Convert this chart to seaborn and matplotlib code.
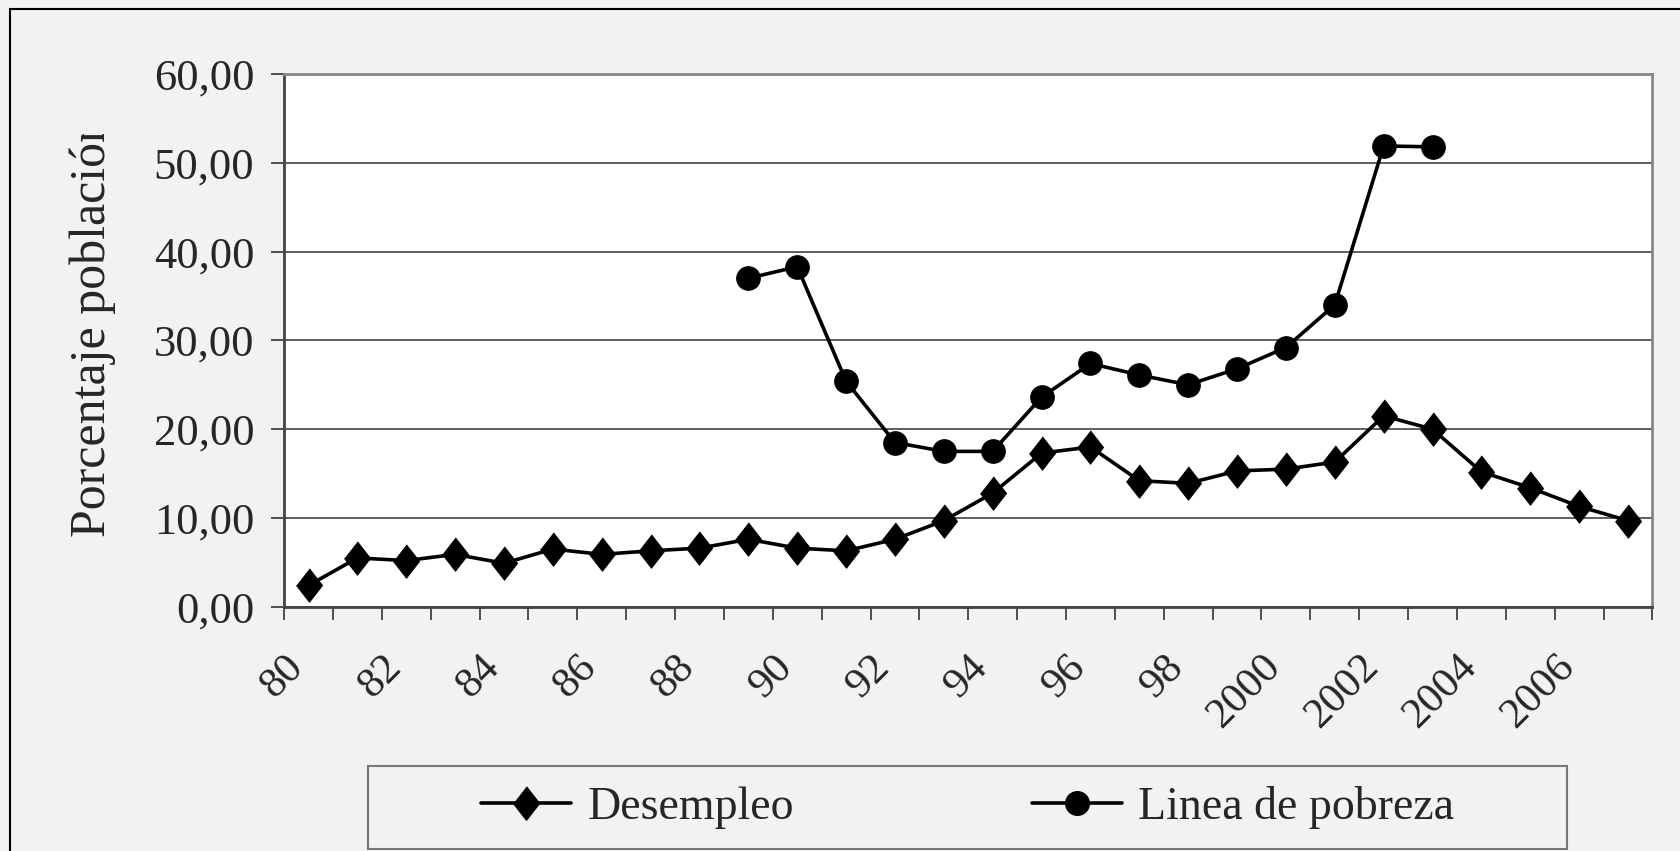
import numpy as np
import pandas as pd
import matplotlib
matplotlib.use("Agg")
import matplotlib.pyplot as plt
import seaborn as sns
from matplotlib.lines import Line2D
from matplotlib.patches import Rectangle
from matplotlib.transforms import Bbox, TransformedBbox


# ==================================
# DATA
# ==================================

years = ["80", "81", "82", "83", "84", "85", "86", "87", "88", "89",
         "90", "91", "92", "93", "94", "95", "96", "97", "98", "99",
         "2000", "2001", "2002", "2003", "2004", "2005", "2006", "2007"]

desempleo = [2.4, 5.5, 5.2, 5.9, 4.9, 6.5, 5.9, 6.3, 6.6, 7.6,
             6.6, 6.3, 7.6, 9.7, 12.8, 17.3, 18.0, 14.2, 13.9, 15.3,
             15.5, 16.3, 21.5, 20.0, 15.2, 13.4, 11.3, 9.7]

pobreza = [np.nan, np.nan, np.nan, np.nan, np.nan, np.nan, np.nan, np.nan, np.nan, 37.0,
           38.3, 25.4, 18.5, 17.5, 17.5, 23.6, 27.4, 26.1, 25.0, 26.8,
           29.2, 34.0, 51.9, 51.8, np.nan, np.nan, np.nan, np.nan]

series_names = ["Desempleo", "Linea de pobreza"]

y_ticks = [0, 10, 20, 30, 40, 50, 60]
y_tick_labels = ["0,00", "10,00", "20,00", "30,00", "40,00", "50,00", "60,00"]

y_label = "Porcentaje población"


# ==================================
# STYLE
# ==================================

sns.set_theme(style="white")
plt.rcParams["font.family"] = ["Liberation Serif", "DejaVu Serif"]

BG = "#f2f2f2"
DIAMOND = [(0, 1), (0.78, 0), (0, -1), (-0.78, 0)]
D_SIZE = 24
O_SIZE = 17

df = pd.DataFrame({
    "pos": np.arange(len(years), dtype=float),
    "Desempleo": desempleo,
    "Linea de pobreza": pobreza,
})
df = df.melt(id_vars="pos", var_name="serie", value_name="valor").dropna()


# ==================================
# PLOT
# ==================================

fig = plt.figure(figsize=(16.81, 8.51), dpi=100, facecolor=BG)
ax = fig.add_axes([0.169, 0.287, 0.814, 0.626])
ax.set_facecolor("white")

sns.lineplot(
    data=df[df["serie"] == "Desempleo"],
    x="pos", y="valor",
    color="black", marker=DIAMOND, markersize=D_SIZE,
    markeredgecolor="black", linewidth=2.6, ax=ax
)
sns.lineplot(
    data=df[df["serie"] == "Linea de pobreza"],
    x="pos", y="valor",
    color="black", marker="o", markersize=O_SIZE,
    markeredgecolor="black", linewidth=2.6, ax=ax
)

# category axis: ticks on boundaries, every other labelled
ax.set_xlim(-0.5, len(years) - 0.5)
ax.set_xticks(np.arange(len(years) + 1) - 0.5)
ax.set_xticklabels([years[i] if (i < len(years) and i % 2 == 0) else ""
                    for i in range(len(years) + 1)],
                   rotation=45, ha="right", va="top", rotation_mode="anchor",
                   fontsize=31)

ax.set_ylim(0, 60)
ax.set_yticks(y_ticks)
ax.set_yticklabels(y_tick_labels, fontsize=32)

ax.yaxis.grid(True, color="#333333", linewidth=1.1)
ax.xaxis.grid(False)

ax.tick_params(axis="both", direction="out", length=9.5, width=1.2,
               color="#333333", left=True, bottom=True)
ax.tick_params(axis="x", pad=20)
ax.tick_params(axis="y", pad=12)

for side in ["left", "bottom"]:
    ax.spines[side].set_color("#444444")
    ax.spines[side].set_linewidth(2)
for side in ["top", "right"]:
    ax.spines[side].set_color("#888888")
    ax.spines[side].set_linewidth(2)

ax.set_xlabel("")
ax.set_ylabel(y_label, fontsize=36)
ax.yaxis.set_label_coords(-0.123, 0.525)
ax.yaxis.label.set_clip_box(TransformedBbox(Bbox([[0, 0], [1, 0.8425]]), fig.transFigure))
ax.yaxis.label.set_clip_on(True)

# outer chart border
fig.patches.append(Rectangle((0.006, -0.01), 1.01, 0.9995, transform=fig.transFigure,
                             fill=False, edgecolor="black", linewidth=1.5))

# legend box
fig.patches.append(Rectangle((0.2188, 0.0025), 0.7136, 0.097, transform=fig.transFigure,
                             facecolor=BG, edgecolor="#777777", linewidth=1.5))

handles = [
    Line2D([], [], color="black", marker=DIAMOND, markersize=D_SIZE, linewidth=2.6),
    Line2D([], [], color="black", marker="o", markersize=O_SIZE, linewidth=2.6),
]
fig.legend(handles, series_names, loc="center", bbox_to_anchor=(0.5756, 0.051),
           ncol=2, frameon=False, fontsize=33, handlelength=1.97,
           handletextpad=0.35, columnspacing=5.2)

fig.savefig("out.png", dpi=100, facecolor=BG)
